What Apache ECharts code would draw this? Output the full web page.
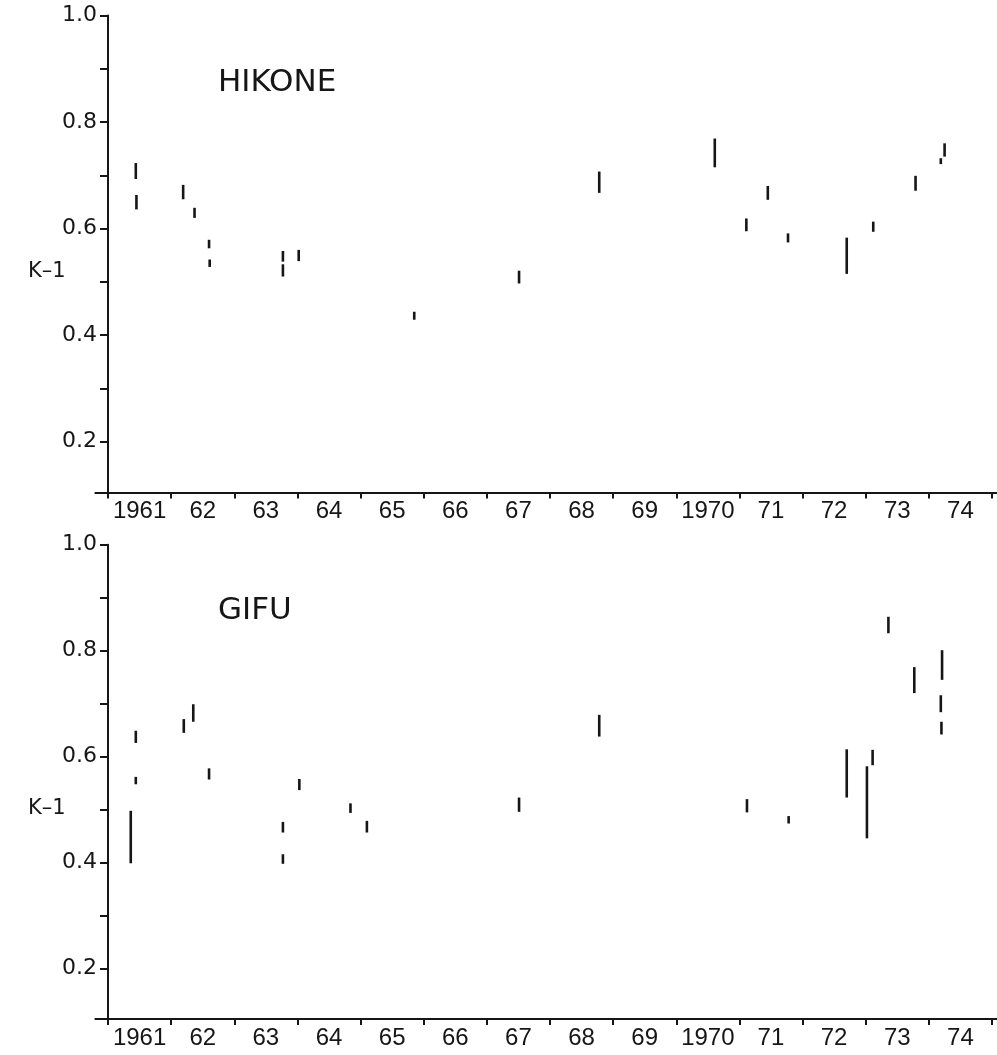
<!DOCTYPE html>
<html>
<head>
<meta charset="utf-8">
<script src="https://cdn.jsdelivr.net/npm/echarts@6/dist/echarts.min.js"></script>
<style>
html,body{margin:0;padding:0;background:#fff;}
#chart{width:997px;height:1055px;}
</style>
</head>
<body>
<div id="chart"></div>
<script>
// ---- data ----
const yearTicks = [1961,1962,1963,1964,1965,1966,1967,1968,1969,1970,1971,1972,1973,1974,1975];
const yearLabels = ['1961','62','63','64','65','66','67','68','69','1970','71','72','73','74'];
const yTicks = [0.2,0.3,0.4,0.5,0.6,0.7,0.8,0.9,1.0];
const yLabels = [0.2,0.4,0.6,0.8,1.0];

const hikoneYear = [1961.44,1961.45,1962.19,1962.37,1962.60,1962.61,1963.77,1963.77,1964.02,1965.85,1967.51,1968.78,1970.61,1971.11,1971.45,1971.77,1972.70,1973.12,1973.79,1974.25,1974.19];
const hikoneLow  = [0.693,0.636,0.655,0.620,0.563,0.528,0.538,0.510,0.539,0.429,0.497,0.667,0.715,0.595,0.654,0.574,0.515,0.594,0.671,0.735,0.721];
const hikoneHigh = [0.723,0.663,0.682,0.639,0.579,0.542,0.558,0.533,0.560,0.444,0.521,0.707,0.769,0.619,0.680,0.591,0.583,0.613,0.699,0.760,0.732];

const gifuYear = [1961.44,1961.44,1961.36,1962.20,1962.35,1962.60,1963.77,1963.77,1964.03,1964.84,1965.10,1967.51,1968.78,1971.12,1971.78,1972.70,1973.11,1973.02,1973.36,1973.77,1974.21,1974.19,1974.20];
const gifuLow    = [0.626,0.548,0.399,0.645,0.666,0.557,0.457,0.398,0.537,0.494,0.457,0.496,0.638,0.495,0.474,0.523,0.584,0.446,0.833,0.720,0.745,0.684,0.642];
const gifuHigh   = [0.649,0.562,0.498,0.671,0.699,0.578,0.477,0.416,0.558,0.512,0.479,0.523,0.679,0.520,0.488,0.614,0.613,0.582,0.864,0.769,0.801,0.716,0.666];

const titles = ['HIKONE','GIFU'];
const yName = 'K\u20131';

// ---- chart ----
const INK = '#161616';
const X_MIN = 1960.8, X_MAX = 1975.08;
const labelCenters = yearLabels.map((_, i) => yearTicks[i] + 0.5);

function makeX(gridIndex){
  return {
    type:'value', gridIndex, min:X_MIN, max:X_MAX,
    axisLine:{show:true, lineStyle:{color:INK, width:2}},
    axisTick:{show:true, inside:false, length:6, customValues:yearTicks, lineStyle:{color:INK, width:2}},
    axisLabel:{show:true, customValues:labelCenters, margin:7,
      color:INK, fontSize:24, fontFamily:"'Liberation Sans',sans-serif",
      formatter:(v)=>{ const i = Math.round(v-0.5) - 1961; return yearLabels[i]; }},
    splitLine:{show:false}
  };
}
function makeY(gridIndex){
  // y axis stands at 1961 (offset to the right of the grid's left edge)
  const pxPerYear = 901.6 / (X_MAX - X_MIN);
  return {
    type:'value', gridIndex, min:0.105, max:1.0,
    offset: -(1961 - X_MIN) * pxPerYear,
    axisLine:{show:true, lineStyle:{color:INK, width:2}},
    axisTick:{show:true, inside:false, length:8, customValues:yTicks, lineStyle:{color:INK, width:2}},
    axisLabel:{show:true, customValues:yLabels, margin:11, color:INK, fontSize:22,
      fontFamily:"'DejaVu Sans',sans-serif", formatter:(v)=>v.toFixed(1)},
    splitLine:{show:false}
  };
}
function renderRange(params, api){
  const p1 = api.coord([api.value(0), api.value(1)]);
  const p2 = api.coord([api.value(0), api.value(2)]);
  return {type:'line', shape:{x1:p1[0], y1:p1[1], x2:p2[0], y2:p2[1]},
    style:{stroke:INK, lineWidth:2.6}};
}
const hikoneData = hikoneYear.map((x,i)=>[x, hikoneLow[i], hikoneHigh[i]]);
const gifuData = gifuYear.map((x,i)=>[x, gifuLow[i], gifuHigh[i]]);

const chart = echarts.init(document.getElementById('chart'), null, {renderer:'canvas'});
chart.setOption({
  backgroundColor:'#ffffff',
  animation:false,
  grid:[
    {left:95.4, top:15.4, width:901.6, height:477},
    {left:95.4, top:544.7, width:901.6, height:474.4}
  ],
  xAxis:[makeX(0), makeX(1)],
  yAxis:[makeY(0), makeY(1)],
  series:[
    {type:'custom', xAxisIndex:0, yAxisIndex:0, renderItem:renderRange, data:hikoneData, encode:{x:0, y:[1,2]}},
    {type:'custom', xAxisIndex:1, yAxisIndex:1, renderItem:renderRange, data:gifuData, encode:{x:0, y:[1,2]}}
  ],
  graphic:[
    {type:'text', left:218, top:67, style:{text:titles[0], fill:INK, fontSize:31, fontFamily:"'DejaVu Sans',sans-serif"}},
    {type:'text', left:218, top:595, style:{text:titles[1], fill:INK, fontSize:31, fontFamily:"'DejaVu Sans',sans-serif"}},
    {type:'text', left:28, top:261, style:{text:yName, fill:INK, fontSize:21, fontFamily:"'DejaVu Sans',sans-serif"}},
    {type:'text', left:28, top:798, style:{text:yName, fill:INK, fontSize:21, fontFamily:"'DejaVu Sans',sans-serif"}}
  ]
});
</script>
</body>
</html>
